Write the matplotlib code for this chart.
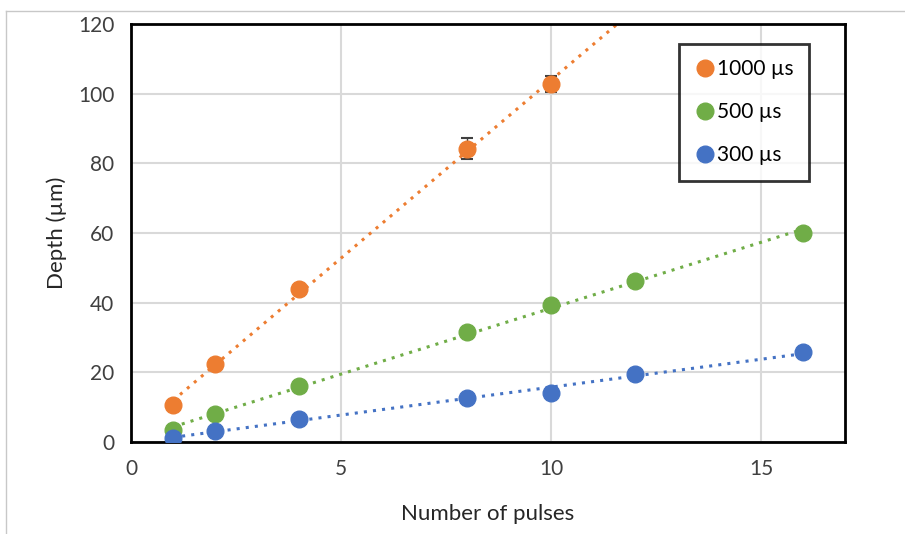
import numpy as np
from matplotlib import pyplot as plt
from matplotlib.lines import Line2D

plt.rcParams['font.family'] = ['Lato', 'DejaVu Sans']

# data
x_1000 = [1, 2, 4, 8, 10]
y_1000 = [10.6, 22.4, 43.9, 84.2, 102.8]
e_1000 = [0.5, 0.6, 0.8, 3.0, 2.4]

x_500 = [1, 2, 4, 8, 10, 12, 16]
y_500 = [3.4, 8.0, 16.0, 31.6, 39.3, 46.2, 60.0]
e_500 = [0.3, 0.4, 0.5, 0.8, 1.6, 0.6, 0.6]

x_300 = [1, 2, 4, 8, 10, 12, 16]
y_300 = [1.2, 3.2, 6.6, 12.6, 14.1, 19.5, 25.8]
e_300 = [0.2, 0.3, 0.4, 0.5, 0.6, 0.5, 0.5]

series = [
    ('1000 µs', x_1000, y_1000, e_1000, '#ED7D31', 12),
    ('500 µs', x_500, y_500, e_500, '#70AD47', 16),
    ('300 µs', x_300, y_300, e_300, '#4472C4', 16),
]

fig = plt.figure(figsize=(9.05, 5.34), dpi=100)
ax = fig.add_axes([0.1448, 0.1723, 0.7889, 0.7827])

for label, xs, ys, es, col, xend in series:
    k, b = np.polyfit(xs, ys, 1)
    xt = np.array([xs[0], xend])
    ax.plot(xt, k * xt + b, ls=(0, (1, 2)), lw=2.2, color=col, zorder=2)
    ax.errorbar(xs, ys, yerr=es, fmt='none', ecolor='#404040', elinewidth=1,
                capsize=4, capthick=1.5, zorder=3)
    ax.plot(xs, ys, 'o', ms=12, color=col, label=label, zorder=4)

ax.set_xlim(0, 17)
ax.set_ylim(0, 120)
ax.set_xticks([0, 5, 10, 15])
ax.set_yticks(np.arange(0, 121, 20))
ax.grid(color='#d9d9d9', lw=1.5)
ax.set_axisbelow(True)
ax.tick_params(length=0, labelsize=15, colors='#404040', pad=12)
for s in ax.spines.values():
    s.set_linewidth(2)
    s.set_color('black')

ax.set_xlabel('Number of pulses', fontsize=16, color='#262626', labelpad=18)
ax.set_ylabel('Depth (µm)', fontsize=16, color='#262626', labelpad=8)

leg = ax.legend(loc='upper right', bbox_to_anchor=(0.95, 0.953), fontsize=15,
                frameon=True, fancybox=False, handletextpad=0.1,
                labelspacing=1.1, borderpad=0.75, handlelength=1.0,
                borderaxespad=0)
leg.get_frame().set_edgecolor('black')
leg.get_frame().set_linewidth(2)

# light outer frame of the original picture
fig.add_artist(Line2D([0.0066, 1], [0.979, 0.979], color='#c8c8c8', lw=1))
fig.add_artist(Line2D([0.0066, 0.0066], [0, 0.979], color='#c8c8c8', lw=1))

fig.savefig('out.png', dpi=100)
